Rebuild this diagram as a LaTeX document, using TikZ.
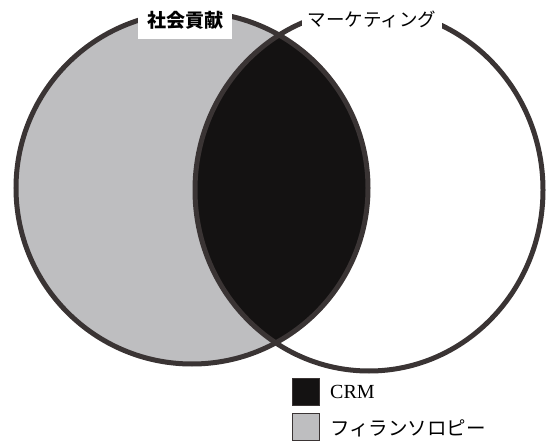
\documentclass[tikz,border=0pt]{standalone}
\usepackage{fontspec}
\setmainfont{Liberation Serif}
\newfontfamily\cjk{Noto Sans CJK JP}
\definecolor{venngray}{RGB}{190,190,192}
\definecolor{lensblack}{RGB}{20,18,18}
\definecolor{rim}{RGB}{58,52,52}
\begin{document}
\begin{tikzpicture}[x=1pt,y=-1pt,
  rimline/.style={draw=rim,line width=5pt},
  toplabel/.style={fill=white,inner sep=0pt,text=black},
  legbox/.style={draw=rim,line width=1pt,minimum width=27pt,minimum height=27pt,inner sep=0pt},
  legtext/.style={anchor=west,inner sep=0pt,text=black}]
\useasboundingbox (0,0) rectangle (546,441);
% fills
\fill[venngray] (192,188) circle[radius=176];
\begin{scope}
  \clip (192,188) circle[radius=176];
  \fill[lensblack] (369,190) ellipse[x radius=174,y radius=181];
\end{scope}
% outlines
\draw[rimline] (192,188) circle[radius=176];
\draw[rimline] (369,190) ellipse[x radius=174,y radius=181];
% top labels
\node[toplabel,minimum width=94pt,minimum height=38pt,font=\cjk\bfseries\fontsize{19}{19}\selectfont] (social) at (185,20) {社会貢献};
\node[toplabel,minimum width=140pt,minimum height=30pt,font=\cjk\fontsize{18.5}{18.5}\selectfont] (mkt) at (372,19) {マーケティング};
% legend
\node[legbox,fill=lensblack] (crmbox) at (306,392) {};
\node[legbox,fill=venngray] (philbox) at (306,427) {};
\node[legtext,font=\fontsize{20}{20}\selectfont] (crm) at (330,392) {CRM};
\node[legtext,font=\cjk\fontsize{19.5}{19.5}\selectfont] (phil) at (330,428) {フィランソロピー};
\end{tikzpicture}
\end{document}
